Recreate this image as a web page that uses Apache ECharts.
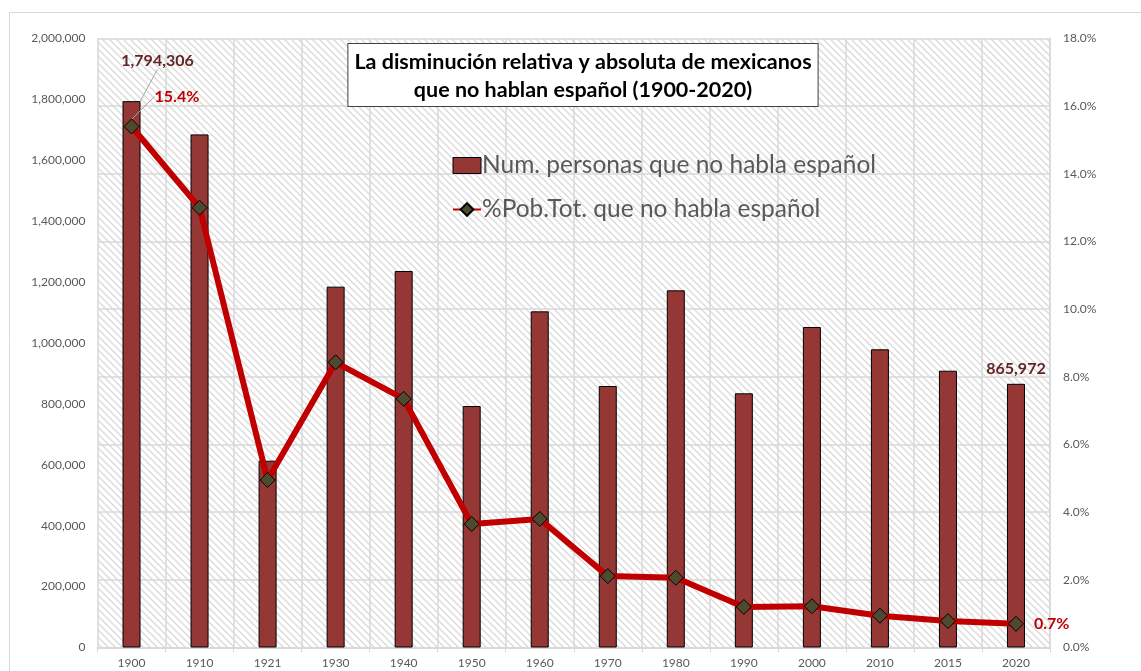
<!DOCTYPE html>
<html>
<head>
<meta charset="utf-8">
<script src="https://cdn.jsdelivr.net/npm/echarts@6/dist/echarts.min.js"></script>
<style>
  html, body { margin: 0; padding: 0; background: #ffffff; }
  #chart { width: 1141px; height: 671px; }
</style>
</head>
<body>
<div id="chart"></div>
<script>
// Census years
const years = ['1900', '1910', '1921', '1930', '1940', '1950', '1960', '1970', '1980', '1990', '2000', '2010', '2015', '2020'];
// Number of people who do not speak Spanish
const speakers = [1794306, 1685000, 613500, 1185000, 1236500, 793000, 1104000, 858800, 1173000, 834800, 1052500, 979300, 909000, 865972];
// Share of total population that does not speak Spanish (%)
const share = [15.4, 13.0, 4.95, 8.43, 7.35, 3.65, 3.80, 2.11, 2.06, 1.20, 1.22, 0.94, 0.78, 0.7];

const titleLines = ['La disminución relativa y absoluta de mexicanos', 'que no hablan español (1900-2020)'];
const seriesNames = ['Num. personas que no habla español', '%Pob.Tot. que no habla español'];

const FONT = 'Lato, "Open Sans", sans-serif';
const AXIS_GREY = '#595959';
const GRID_GREY = '#d9d9d9';

// diagonal hatch tile for the plot background
function hatchPattern() {
  const s = 7;
  const c = document.createElement('canvas');
  c.width = s; c.height = s;
  const ctx = c.getContext('2d');
  ctx.fillStyle = '#ffffff';
  ctx.fillRect(0, 0, s, s);
  ctx.strokeStyle = '#dadada';
  ctx.lineWidth = 1.3;
  for (const k of [-s, 0, s]) {
    ctx.beginPath();
    ctx.moveTo(k - 1, -1);
    ctx.lineTo(k + s + 1, s + 1);
    ctx.stroke();
  }
  return { image: c, repeat: 'repeat' };
}

const last = years.length - 1;

const barData = speakers.map((v, i) => {
  if (i === 0) {
    return { value: v, label: { show: true }, labelLine: { show: true } };
  }
  if (i === last) {
    return { value: v, label: { show: true } };
  }
  return v;
});

const lineData = share.map((v, i) => {
  if (i === 0) {
    return { value: v, label: { show: true }, labelLine: { show: true } };
  }
  if (i === last) {
    return { value: v, label: { show: true } };
  }
  return v;
});

const chart = echarts.init(document.getElementById('chart'), null, { renderer: 'canvas' });

chart.setOption({
  backgroundColor: '#ffffff',
  animation: false,
  textStyle: { fontFamily: FONT },
  graphic: [{
    // outer chart frame
    type: 'rect',
    left: 7, top: 10,
    shape: { width: 1200, height: 720 },
    style: { fill: 'none', stroke: '#d9d9d9', lineWidth: 1 },
    silent: true, z: -10
  }, {
    // boxed two-line title
    type: 'text',
    x: 583, y: 44,
    z: 20,
    style: {
      text: titleLines.join('\n'),
      align: 'center',
      verticalAlign: 'top',
      font: 'bold 21.5px ' + FONT,
      fill: '#000000',
      lineHeight: 28,
      backgroundColor: '#ffffff',
      borderColor: '#404040',
      borderWidth: 1,
      padding: [4, 6, 2, 6]
    }
  }],
  legend: {
    orient: 'vertical',
    left: 447, top: 148,
    itemGap: 19,
    itemWidth: 28, itemHeight: 16,
    textStyle: { fontFamily: FONT, fontSize: 24.5, color: AXIS_GREY, padding: [0, 0, 0, -4] },
    data: [
      { name: seriesNames[0], icon: 'rect', itemStyle: { borderColor: '#000', borderWidth: 1 } },
      { name: seriesNames[1] }
    ]
  },
  grid: {
    left: 97.5, top: 38.5, right: 91, bottom: 23.5,
    show: true,
    backgroundColor: hatchPattern(),
    borderWidth: 0
  },
  xAxis: {
    type: 'category',
    data: years,
    boundaryGap: true,
    axisLine: { show: true, lineStyle: { color: GRID_GREY, width: 2 } },
    axisTick: { show: true, length: 5, lineStyle: { color: GRID_GREY, width: 1 } },
    splitLine: { show: true, lineStyle: { color: GRID_GREY, width: 1.5 } },
    axisLabel: { color: AXIS_GREY, fontSize: 12, margin: 10, fontFamily: FONT }
  },
  yAxis: [{
    type: 'value',
    min: 0, max: 2000000, interval: 200000,
    splitLine: { show: false },
    axisLine: { show: false },
    axisTick: { show: false },
    axisLabel: {
      color: AXIS_GREY, fontSize: 12, margin: 12, fontFamily: FONT,
      formatter: v => v.toLocaleString('en-US')
    }
  }, {
    type: 'value',
    min: 0, max: 18, interval: 2,
    position: 'right',
    splitLine: { show: true, lineStyle: { color: GRID_GREY, width: 1.5 } },
    axisLine: { show: true, lineStyle: { color: GRID_GREY, width: 1.5 } },
    axisTick: { show: false },
    axisLabel: {
      color: AXIS_GREY, fontSize: 12, margin: 13, fontFamily: FONT,
      formatter: v => v.toFixed(1) + '%'
    }
  }],
  series: [{
    name: seriesNames[0],
    type: 'bar',
    data: barData,
    barWidth: 18,
    itemStyle: { color: '#953735', borderColor: '#000000', borderWidth: 1 },
    label: {
      show: false,
      position: 'top',
      distance: 7,
      color: '#632523',
      fontFamily: FONT, fontWeight: 'bold', fontSize: 16,
      formatter: p => p.value.toLocaleString('en-US')
    },
    labelLine: { show: false, lineStyle: { color: '#a6a6a6', width: 1 } },
    labelLayout: p => {
      if (p.dataIndex === 0) return { dx: 26, dy: -25 };
      return {};
    },
    z: 2
  }, {
    name: seriesNames[1],
    type: 'line',
    yAxisIndex: 1,
    data: lineData,
    symbol: 'diamond',
    symbolSize: 15,
    lineStyle: { color: '#c00000', width: 6 },
    itemStyle: { color: '#4d4a30', borderColor: '#000000', borderWidth: 1 },
    label: {
      show: false,
      position: 'right',
      distance: 10,
      color: '#c00000',
      fontFamily: FONT, fontWeight: 'bold', fontSize: 16,
      formatter: p => p.value.toFixed(1) + '%'
    },
    labelLine: { show: false, lineStyle: { color: '#a6a6a6', width: 1 } },
    labelLayout: p => {
      if (p.dataIndex === 0) return { dx: 5, dy: -30 };
      return {};
    },
    z: 5
  }]
});
</script>
</body>
</html>
